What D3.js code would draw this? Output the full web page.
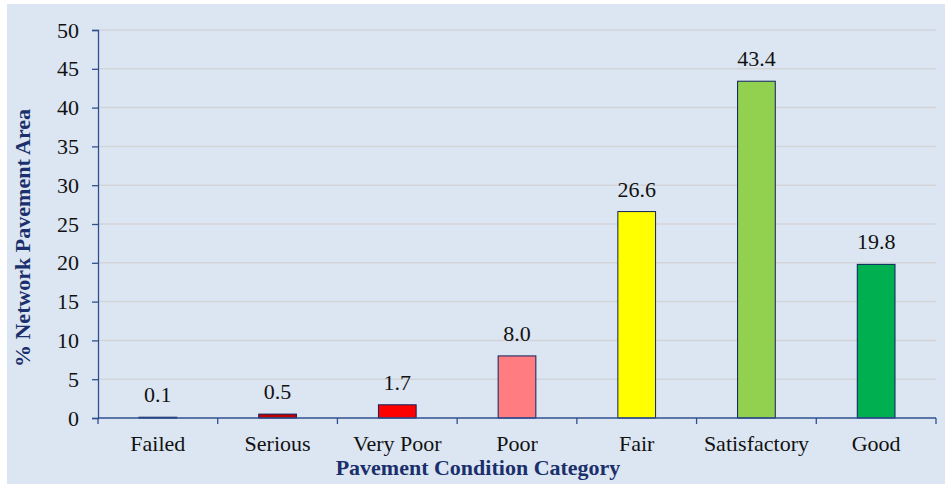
<!DOCTYPE html>
<html><head><meta charset="utf-8">
<script src="https://cdn.jsdelivr.net/npm/d3@7"></script>
<style>body{margin:0;background:#fff}svg{display:block}</style>
</head><body>
<script>
const categories = ["Failed","Serious","Very Poor","Poor","Fair","Satisfactory","Good"];
const values = [0.1,0.5,1.7,8.0,26.6,43.4,19.8];
const labels = ["0.1","0.5","1.7","8.0","26.6","43.4","19.8"];
const colors = ["#1f3f8f","#c00000","#ff0000","#ff7c80","#ffff00","#92d050","#00b050"];
const yTicks = [0,5,10,15,20,25,30,35,40,45,50];

const W=945,H=484;
const svg=d3.select("body").append("svg").attr("width",W).attr("height",H);
svg.append("rect").attr("x",7).attr("y",4).attr("width",W-7).attr("height",H-4).attr("fill","#dce6f2");

const x=d3.scaleBand().domain(categories).range([98,936]).paddingInner(0.685).paddingOuter(0.3425);
const y=d3.scaleLinear().domain([0,50]).range([418,30]);
const font="'Liberation Serif','Times New Roman',serif";
const axisCol="#2f4f8f";
const FS=22;

// gridlines
svg.append("g").selectAll("line").data(yTicks.filter(d=>d>0)).join("line")
  .attr("x1",98).attr("x2",936).attr("y1",d=>y(d)).attr("y2",d=>y(d))
  .attr("stroke","#d3d4d8").attr("stroke-width",1.5);

// bars
svg.append("g").selectAll("rect").data(values).join("rect")
  .attr("x",(d,i)=>x(categories[i])).attr("width",x.bandwidth())
  .attr("y",d=>y(d)).attr("height",d=>y(0)-y(d))
  .attr("fill",(d,i)=>colors[i]).attr("stroke","#0d1f5c").attr("stroke-width",1);

// value labels
svg.append("g").selectAll("text").data(values).join("text")
  .attr("x",(d,i)=>x(categories[i])+x.bandwidth()/2).attr("y",d=>y(d)-15)
  .attr("text-anchor","middle").attr("font-family",font).attr("font-size",FS).attr("fill","#111")
  .text((d,i)=>labels[i]);

// y axis
const ya=svg.append("g").attr("transform","translate(98,0)")
  .call(d3.axisLeft(y).tickValues(yTicks).tickSize(6).tickPadding(13));
ya.selectAll("path,line").attr("stroke",axisCol).attr("stroke-width",1.3);
ya.selectAll("text").attr("font-family",font).attr("font-size",FS).attr("fill","#111");

// x axis
const xa=svg.append("g").attr("transform","translate(0,418)")
  .call(d3.axisBottom(x).tickSize(0).tickPadding(17));
xa.select("path").attr("stroke",axisCol).attr("stroke-width",1.3).attr("d","M98,0H936");
xa.selectAll("text").attr("font-family",font).attr("font-size",FS).attr("fill","#111");
const step=x.step();
svg.append("g").selectAll("line").data(d3.range(categories.length+1)).join("line")
  .attr("x1",d=>98+d*step).attr("x2",d=>98+d*step).attr("y1",418).attr("y2",424)
  .attr("stroke",axisCol).attr("stroke-width",1.3);

// titles
svg.append("text").attr("x",478).attr("y",475).attr("text-anchor","middle")
  .attr("font-family",font).attr("font-size",FS).attr("font-weight","bold").attr("fill","#1a2f6b")
  .text("Pavement Condition Category");
svg.append("text").attr("transform","translate(30,238) rotate(-90)").attr("text-anchor","middle")
  .attr("font-family",font).attr("font-size",FS).attr("font-weight","bold").attr("fill","#1a2f6b")
  .text("% Network Pavement Area");
</script>
</body></html>
